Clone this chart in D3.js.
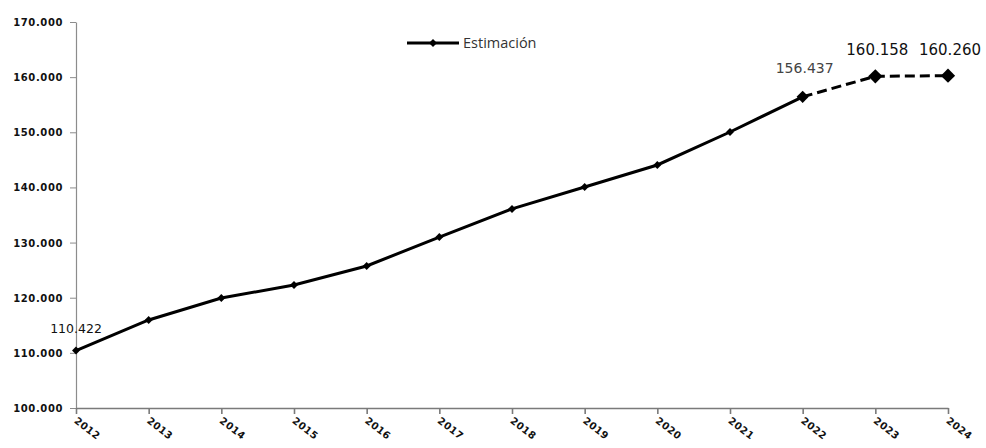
<!DOCTYPE html>
<html>
<head>
<meta charset="utf-8">
<script src="https://cdn.jsdelivr.net/npm/d3@7"></script>
<style>
  body { margin: 0; background: #fff; }
  svg { display: block; }
</style>
</head>
<body>
<div id="chart"></div>
<script>
// Data
const years = ["2012","2013","2014","2015","2016","2017","2018","2019","2020","2021","2022","2023","2024"];
const estimacion = [110422, 115960, 119950, 122300, 125750, 131000, 136100, 140080, 144070, 150050, 156437, 160158, 160260];
const labelledYears = ["2012","2022","2023","2024"];
const yTicks = [100000, 110000, 120000, 130000, 140000, 150000, 160000, 170000];

const w = 986, h = 448;
const padLeft = 76, padRight = 948, padTop = 22, padBottom = 408;

const fmt = d3.formatLocale({ decimal: ",", thousands: ".", grouping: [3], currency: ["", ""] }).format(",d");

const svg = d3.select("#chart").append("svg").attr("width", w).attr("height", h);

const xScale = d3.scalePoint().domain(years).range([padLeft, padRight]);
const yScale = d3.scaleLinear().domain([100000, 170000]).range([padBottom, padTop]);

// Axes
const yAxis = d3.axisLeft(yScale).tickValues(yTicks).tickFormat(fmt).tickSize(6).tickSizeOuter(0);
const gy = svg.append("g").attr("transform", "translate(" + padLeft + ",0)").call(yAxis);
gy.select(".domain").attr("stroke", "#8c8c8c").attr("stroke-width", 1.2);
gy.selectAll(".tick line").attr("stroke", "#8c8c8c");
gy.selectAll(".tick text")
  .attr("x", -13)
  .attr("dy", "0.35em")
  .style("font-family", "DejaVu Sans")
  .style("font-weight", "bold")
  .style("font-size", "10px")
  .style("letter-spacing", "0.6px")
  .attr("fill", "#111");

const xAxis = d3.axisBottom(xScale).tickSize(6).tickSizeOuter(0);
const gx = svg.append("g").attr("transform", "translate(0," + padBottom + ")").call(xAxis);
gx.select(".domain").attr("stroke", "#7a7a7a").attr("stroke-width", 1.6);
gx.selectAll(".tick line").attr("stroke", "#7a7a7a").attr("stroke-width", 1.6);
gx.selectAll(".tick text")
  .attr("text-anchor", "start")
  .attr("x", 0).attr("y", 0).attr("dy", 0)
  .attr("transform", "translate(-3,14) rotate(38)")
  .style("font-family", "DejaVu Sans")
  .style("font-weight", "bold")
  .style("font-size", "10px")
  .style("letter-spacing", "0.4px")
  .attr("fill", "#111");

// Lines
const data = years.map((y, i) => ({ year: y, value: estimacion[i], i: i }));
const line = d3.line().x(d => xScale(d.year)).y(d => yScale(d.value));

svg.append("path")
   .datum(data.filter(d => d.i <= 10))
   .attr("d", line)
   .attr("fill", "none")
   .attr("stroke", "#000")
   .attr("stroke-width", 3);

svg.append("path")
   .datum(data.filter(d => d.i >= 10))
   .attr("d", line)
   .attr("fill", "none")
   .attr("stroke", "#000")
   .attr("stroke-width", 3)
   .attr("stroke-dasharray", "10,5");

// Markers
const markSize = d => d.i >= 11 ? 130 : (d.i === 10 ? 95 : 40);
svg.selectAll(".mark")
   .data(data)
   .enter()
   .append("path")
   .attr("class", "mark")
   .attr("transform", d => "translate(" + xScale(d.year) + "," + yScale(d.value) + ")")
   .attr("d", d => d3.symbol().type(d3.symbolDiamond2).size(markSize(d))())
   .attr("fill", "#000");

// Data labels
const lbl = data.filter(d => labelledYears.includes(d.year));
svg.selectAll(".dlabel")
   .data(lbl)
   .enter()
   .append("text")
   .attr("class", "dlabel")
   .attr("x", d => xScale(d.year) + (d.i === 0 ? 0 : 2))
   .attr("y", d => d.i === 0 ? 333 : (d.i === 10 ? yScale(d.value) - 24 : yScale(d.value) - 21))
   .attr("text-anchor", "middle")
   .style("font-family", "DejaVu Sans")
   .style("font-size", d => d.i >= 11 ? "15px" : (d.i === 10 ? "14px" : "12.5px"))
   .attr("fill", d => d.i === 10 ? "#444" : "#111")
   .text(d => fmt(d.value));

// Legend
const lg = svg.append("g").attr("transform", "translate(407,43)");
lg.append("line").attr("x1", 0).attr("x2", 52).attr("y1", 0).attr("y2", 0)
  .attr("stroke", "#000").attr("stroke-width", 3);
lg.append("path").attr("transform", "translate(26,0)")
  .attr("d", d3.symbol().type(d3.symbolDiamond2).size(40)())
  .attr("fill", "#000");
lg.append("text").attr("x", 56).attr("y", 5)
  .style("font-family", "Open Sans")
  .style("font-size", "14.5px")
  .attr("fill", "#333")
  .text("Estimación");
</script>
</body>
</html>
